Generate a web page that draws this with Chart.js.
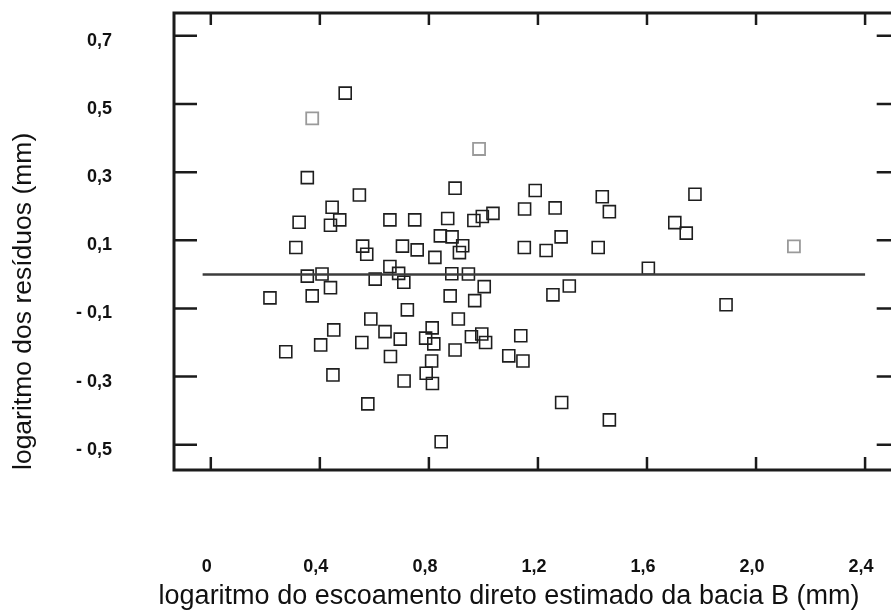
<!DOCTYPE html>
<html>
<head>
<meta charset="utf-8">
<script src="https://cdn.jsdelivr.net/npm/chart.js@4"></script>
<style>
  html, body { margin: 0; padding: 0; background: #fff; overflow: hidden; }
  #wrap { width: 910px; height: 614px; }
</style>
</head>
<body>
<div id="wrap"><canvas id="chart" width="910" height="614"></canvas></div>
<script>
// log of estimated direct runoff (basin B) against log of the residuals
const estimatedLog = [
  0.493, 0.354, 0.545, 0.445, 0.324, 0.473, 0.439, 0.657, 0.748, 0.869,
  0.896, 0.965, 0.996, 1.035, 0.842, 0.885, 0.312, 0.557, 0.703, 0.757,
  0.924, 1.190, 1.436, 1.462, 1.151, 1.263, 1.776, 1.702, 1.744, 1.285,
  1.150, 1.230, 1.421, 0.572, 0.822, 0.912, 0.657, 0.354, 0.408, 0.603,
  0.689, 0.708, 0.884, 0.945, 1.003, 0.217, 0.372, 0.439, 0.878, 0.968,
  0.721, 0.587, 0.908, 0.451, 0.639, 0.695, 0.812, 0.788, 0.818, 0.554,
  0.403, 0.275, 0.896, 0.956, 0.994, 1.008, 1.137, 1.093, 1.145, 0.659,
  0.810, 0.790, 0.813, 0.709, 0.448, 0.576, 0.845, 1.315, 1.255, 1.605,
  1.890, 1.287, 1.462
];
const residualLog = [
  0.532, 0.284, 0.233, 0.197, 0.153, 0.160, 0.144, 0.160, 0.160, 0.164,
  0.253, 0.158, 0.170, 0.179, 0.113, 0.110, 0.079, 0.083, 0.083, 0.072,
  0.084, 0.246, 0.228, 0.184, 0.192, 0.195, 0.235, 0.152, 0.121, 0.110,
  0.079, 0.070, 0.079, 0.059, 0.050, 0.064, 0.023, -0.005, 0.001, -0.014,
  0.003, -0.023, 0.002, 0.001, -0.036, -0.069, -0.063, -0.039, -0.063, -0.077,
  -0.104, -0.131, -0.131, -0.163, -0.168, -0.190, -0.157, -0.187, -0.204, -0.200,
  -0.207, -0.227, -0.222, -0.183, -0.175, -0.200, -0.180, -0.239, -0.254, -0.241,
  -0.254, -0.290, -0.320, -0.313, -0.295, -0.380, -0.491, -0.034, -0.060, 0.018,
  -0.089, -0.376, -0.427
];
// three points printed in a lighter grey
const faintEstimated = [0.372, 0.984, 2.139];
const faintResidual = [0.458, 0.368, 0.082];
// zero residual line
const zeroLineX = [-0.03, 2.4];
const zeroLineY = [0, 0];
const xTicks = [0, 0.4, 0.8, 1.2, 1.6, 2.0, 2.4];
const yTicks = [0.7, 0.5, 0.3, 0.1, -0.1, -0.3, -0.5];
const xTitle = 'logaritmo do escoamento direto estimado da bacia B (mm)';
const yTitle = 'logaritmo dos resíduos (mm)';

const FONT = '"Liberation Sans", Arial, sans-serif';
const pairs = (xs, ys) => xs.map((x, i) => ({ x, y: ys[i] }));
const fmtX = (v) => (v === 0 ? '0' : v.toFixed(1).replace('.', ','));
const fmtY = (v) => {
  const s = Math.abs(v).toFixed(1).replace('.', ',');
  return v < 0 ? '- ' + s : s;
};
// labels sit far from the axis; keep that gap out of the chart-area padding
const noEdgePadding = (s) => {
  s.paddingTop = s.paddingBottom = s.paddingLeft = s.paddingRight = 0;
};

// box round the plot with tick marks pointing inwards, plus the x title
const frame = {
  id: 'frame',
  afterDatasetsDraw(chart) {
    const { ctx, chartArea: a, scales: { x, y } } = chart;
    ctx.save();
    ctx.strokeStyle = '#1b1b1b';
    ctx.lineWidth = 3;
    ctx.strokeRect(a.left, a.top, a.right - a.left, a.bottom - a.top);
    ctx.lineWidth = 2.5;
    ctx.beginPath();
    xTicks.forEach((v) => {
      const px = x.getPixelForValue(v);
      ctx.moveTo(px, a.top);
      ctx.lineTo(px, a.top + 12);
      ctx.moveTo(px, a.bottom);
      ctx.lineTo(px, a.bottom - 13);
    });
    yTicks.forEach((v) => {
      const py = y.getPixelForValue(v);
      ctx.moveTo(a.left, py);
      ctx.lineTo(a.left + 23, py);
      ctx.moveTo(a.right, py);
      ctx.lineTo(a.right - 23, py);
    });
    ctx.stroke();

    ctx.fillStyle = '#111';
    ctx.font = '27px ' + FONT;
    ctx.textAlign = 'center';
    ctx.textBaseline = 'middle';
    ctx.fillText(xTitle, 509, 597);
    ctx.restore();
  }
};

new Chart(document.getElementById('chart'), {
  type: 'scatter',
  data: {
    datasets: [
      {
        type: 'line',
        data: pairs(zeroLineX, zeroLineY),
        borderColor: '#3c3c3c',
        borderWidth: 2.5,
        pointRadius: 0,
        fill: false,
      },
      {
        data: pairs(estimatedLog, residualLog),
        pointStyle: 'rect',
        pointRadius: 8.5,
        borderColor: '#1e1e1e',
        borderWidth: 1.6,
        backgroundColor: 'transparent',
      },
      {
        data: pairs(faintEstimated, faintResidual),
        pointStyle: 'rect',
        pointRadius: 8.5,
        borderColor: '#9a9a9a',
        borderWidth: 1.8,
        backgroundColor: 'transparent',
      },
    ],
  },
  options: {
    responsive: false,
    animation: false,
    layout: { padding: { top: 13, right: 4, bottom: 0, left: 0 } },
    plugins: {
      legend: { display: false },
      tooltip: { enabled: false },
    },
    scales: {
      x: {
        type: 'linear',
        min: -0.135,
        max: 2.527,
        afterBuildTicks: (s) => { s.ticks = xTicks.map((v) => ({ value: v })); },
        afterFit: (s) => { s.height = 144; noEdgePadding(s); },
        grid: { display: false, drawTicks: false },
        border: { display: false },
        ticks: {
          autoSkip: false,
          maxRotation: 0,
          padding: 86,
          labelOffset: -4,
          color: '#111',
          font: { family: FONT, size: 18, weight: 'bold' },
          callback: (v) => fmtX(v),
        },
      },
      y: {
        type: 'linear',
        min: -0.574,
        max: 0.767,
        afterBuildTicks: (s) => { s.ticks = yTicks.map((v) => ({ value: v })); },
        afterFit: (s) => { s.width = 174; noEdgePadding(s); },
        grid: { display: false, drawTicks: false },
        border: { display: false },
        ticks: {
          autoSkip: false,
          padding: 62,
          labelOffset: 5,
          color: '#111',
          font: { family: FONT, size: 18, weight: 'bold' },
          callback: (v) => fmtY(v),
        },
        title: {
          display: true,
          align: 'start',
          text: yTitle,
          color: '#111',
          font: { family: FONT, size: 26.5 },
          padding: { top: 8, bottom: 0 },
        },
      },
    },
  },
  plugins: [frame],
});
</script>
</body>
</html>
